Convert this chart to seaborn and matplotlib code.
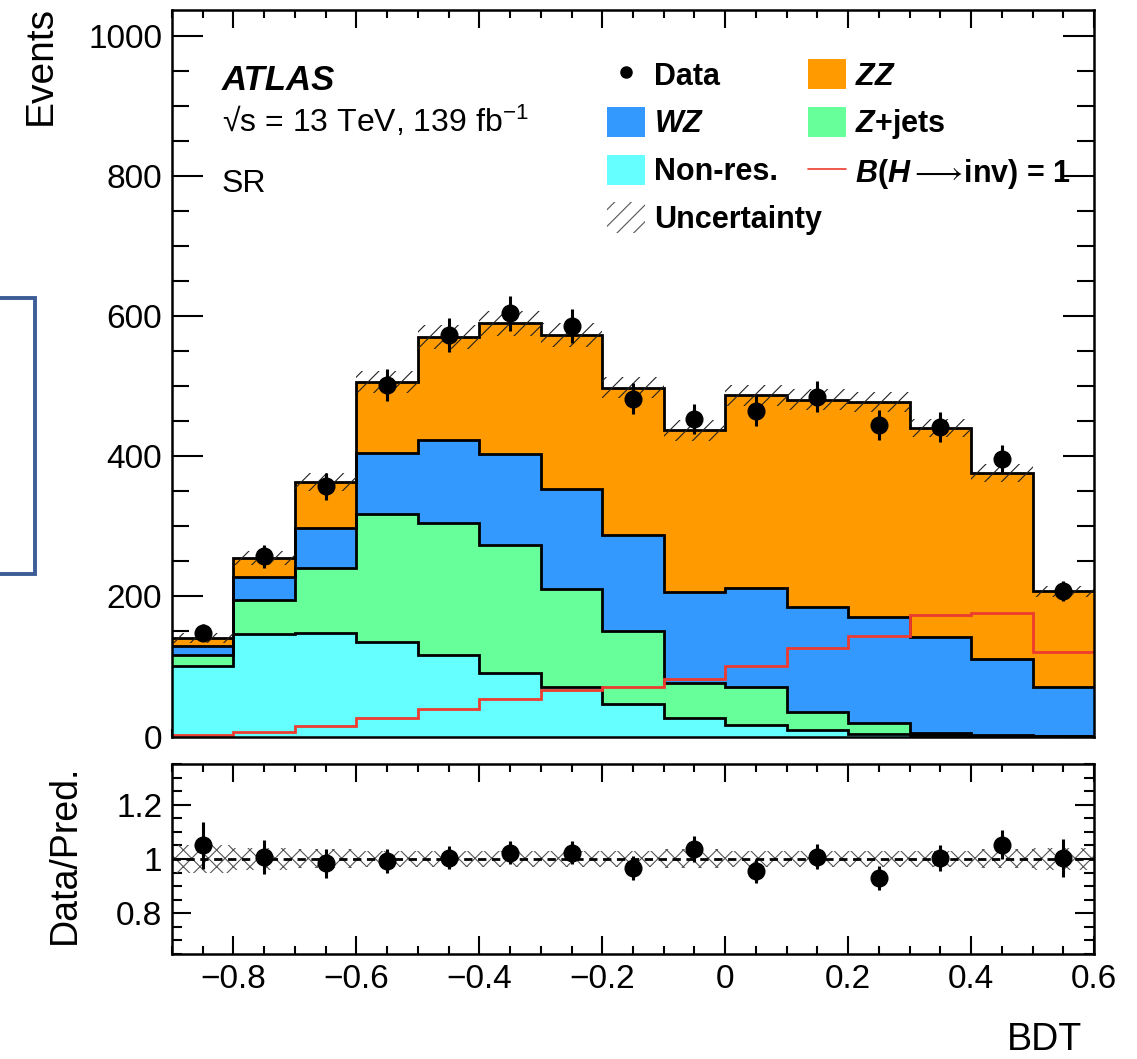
import numpy as np
import pandas as pd
import matplotlib
matplotlib.use("Agg")
import matplotlib.pyplot as plt
import seaborn as sns
from matplotlib.lines import Line2D
from matplotlib.patches import Patch, Rectangle
from matplotlib.ticker import MultipleLocator, FixedLocator, FuncFormatter

# BDT binning (15 bins of width 0.1)
bin_edges = [-0.9, -0.8, -0.7, -0.6, -0.5, -0.4, -0.3, -0.2, -0.1, 0.0, 0.1, 0.2, 0.3, 0.4, 0.5, 0.6]
bin_centers = [-0.85, -0.75, -0.65, -0.55, -0.45, -0.35, -0.25, -0.15, -0.05, 0.05, 0.15, 0.25, 0.35, 0.45, 0.55]

# background predictions per process (events per bin)
nonres = [101, 146, 148, 135, 116, 90, 70, 46, 27, 16, 9, 4, 2, 1, 0.5]
zjets = [15, 49, 92, 182, 189, 184, 141, 104, 50, 54, 26, 16, 3, 1, 0.5]
wz = [13, 33, 58, 87, 118, 129, 143, 138, 129, 142, 150, 150, 137, 109, 69]
zz = [12, 27, 65, 102, 147, 187, 219, 210, 231, 275, 296, 308, 298, 265, 137]

# signal B(H->inv) = 1 and observed data
signal = [2, 7, 15, 27, 40, 54, 66, 70, 82, 101, 126, 144, 174, 177, 120]
data = [148, 257, 357, 502, 573, 604, 586, 482, 453, 465, 485, 445, 442, 396, 208]

# relative systematic uncertainty on the prediction
unc_frac = [0.05, 0.04, 0.035, 0.03, 0.03, 0.03, 0.03, 0.03, 0.035, 0.03, 0.03, 0.03, 0.03, 0.035, 0.04]

colors = {"ZZ": "#ff9a00", "WZ": "#3399ff", "Z+jets": "#66ff99", "Non-res.": "#66ffff"}

sns.set_style("ticks")
plt.rcParams["font.family"] = ["Liberation Sans", "DejaVu Sans"]
plt.rcParams.update({
    "mathtext.fontset": "custom",
    "mathtext.rm": "Liberation Sans:bold",
    "mathtext.it": "Liberation Sans:bold:italic",
    "mathtext.bf": "Liberation Sans:bold",
    "mathtext.fallback": "stixsans",
    "hatch.linewidth": 0.8,
    "axes.linewidth": 1.8,
    "axes.edgecolor": "black",
    "text.color": "black",
    "axes.labelcolor": "black",
    "xtick.color": "black",
    "ytick.color": "black",
})

fig = plt.figure(figsize=(11.37, 10.59), dpi=100)
ax = fig.add_axes([0.1513, 0.3045, 0.8109, 0.6861])
rax = fig.add_axes([0.1513, 0.0992, 0.8109, 0.1794])

# long table for the stacked histogram
procs = {"Non-res.": nonres, "Z+jets": zjets, "WZ": wz, "ZZ": zz}
df = pd.concat([pd.DataFrame({"BDT": bin_centers, "Events": v, "process": k}) for k, v in procs.items()])

sns.histplot(data=df, x="BDT", weights="Events", hue="process",
             hue_order=["ZZ", "WZ", "Z+jets", "Non-res."], palette=colors,
             multiple="stack", bins=bin_edges, element="step", fill=True,
             alpha=1, linewidth=0, legend=False, ax=ax)

# black outlines of each stacked layer
stack = np.cumsum(np.array([nonres, zjets, wz, zz], dtype=float), axis=0)
for layer in stack:
    ax.stairs(layer, bin_edges, color="black", lw=2.0, baseline=None, zorder=3)

total = stack[-1]
unc = np.array(unc_frac)
ax.stairs(total * (1 + unc), bin_edges, baseline=total * (1 - unc), fill=True,
          facecolor="none", edgecolor="#222222", hatch="//", lw=0, zorder=3.5)

ax.stairs(signal, bin_edges, color="#ee3b2f", lw=2.0, baseline=None, zorder=4)

ax.errorbar(bin_centers, data, yerr=np.sqrt(data), fmt="o", color="black",
            ms=12, elinewidth=2.2, capsize=0, zorder=5)

ax.set_xlim(-0.9, 0.6)
ax.set_ylim(0, 1037)
ax.set_xlabel("")
ax.set_ylabel("")
ax.yaxis.set_major_locator(MultipleLocator(200))
ax.yaxis.set_minor_locator(MultipleLocator(50))
ax.xaxis.set_major_locator(MultipleLocator(0.2))
ax.xaxis.set_minor_locator(MultipleLocator(0.05))
ax.tick_params(axis="both", which="both", direction="in", top=True, right=True,
               labelsize=24, width=1.5, pad=7)
ax.tick_params(axis="y", which="major", length=22)
ax.tick_params(axis="y", which="minor", length=12)
ax.tick_params(axis="x", which="major", length=13)
ax.tick_params(axis="x", which="minor", length=6)
ax.tick_params(axis="x", labelbottom=False)
for s in ax.spines.values():
    s.set_zorder(10)

# labels inside the main pad
ax.text(0.054, 0.890, "ATLAS", transform=ax.transAxes, fontsize=25,
        fontweight="bold", fontstyle="italic", va="baseline")
ax.text(0.054, 0.832, "√s = 13 TeV, 139 fb$^{\\mathregular{-1}}$", transform=ax.transAxes,
        fontsize=23, va="baseline")
ax.text(0.054, 0.750, "SR", transform=ax.transAxes, fontsize=23, va="baseline")

# legend, two columns as in the original
h_data = Line2D([], [], marker="o", ls="none", color="black", ms=8)
h_wz = Patch(facecolor=colors["WZ"], lw=0)
h_nr = Patch(facecolor=colors["Non-res."], lw=0)
h_unc = Patch(facecolor="none", edgecolor="#555555", hatch="//", lw=0)
h_zz = Patch(facecolor=colors["ZZ"], lw=0)
h_zj = Patch(facecolor=colors["Z+jets"], lw=0)
h_sig = Line2D([], [], color="#ee3b2f", lw=1.2)

leg_kw = dict(loc="upper left", frameon=False, borderpad=0, borderaxespad=0,
              handlelength=1.25, handleheight=1.15, handletextpad=0.3,
              labelspacing=0.5, prop={"weight": "bold", "size": 22},
              bbox_transform=fig.transFigure)
leg1 = ax.legend([h_data, h_wz, h_nr, h_unc], ["Data", "$WZ$", "Non-res.", "Uncertainty"],
                 bbox_to_anchor=(607 / 1137, 1 - 59 / 1059), **leg_kw)
ax.add_artist(leg1)
ax.legend([h_zz, h_zj, h_sig], ["$ZZ$", "$Z$+jets", "$B$($H$$\\longrightarrow\\!$inv) = 1"],
          bbox_to_anchor=(808 / 1137, 1 - 59 / 1059), **leg_kw)

# ratio pad
ratio = np.array(data) / total
ratio_err = np.sqrt(data) / total
rax.stairs(1 + unc, bin_edges, baseline=1 - unc, fill=True, facecolor="none",
           edgecolor="#555555", hatch="xx", lw=0)
rax.axhline(1, color="black", ls=(0, (3, 2)), lw=2)
rax.errorbar(bin_centers, ratio, yerr=ratio_err, fmt="o", color="black",
             ms=12, elinewidth=2.2, capsize=0, zorder=5)
rax.set_xlim(-0.9, 0.6)
rax.set_ylim(0.65, 1.35)
rax.yaxis.set_major_locator(FixedLocator([0.8, 1.0, 1.2]))
rax.yaxis.set_minor_locator(MultipleLocator(0.05))
rax.xaxis.set_major_locator(MultipleLocator(0.2))
rax.xaxis.set_minor_locator(MultipleLocator(0.05))
fmt = FuncFormatter(lambda v, p: f"{v:g}".replace("-", "\u2212") if abs(v) > 1e-9 else "0")
rax.xaxis.set_major_formatter(fmt)
rax.yaxis.set_major_formatter(fmt)
rax.tick_params(axis="both", which="both", direction="in", top=True, right=True,
                labelsize=24, width=1.5, pad=7)
rax.tick_params(axis="y", which="major", length=14)
rax.tick_params(axis="y", which="minor", length=7)
rax.tick_params(axis="x", which="major", length=13)
rax.tick_params(axis="x", which="minor", length=6)
for s in rax.spines.values():
    s.set_zorder(10)

# axis titles
fig.text(0.036, 1 - 6 / 1059, "Events", rotation=90, ha="center", va="top", fontsize=28)
fig.text(0.057, 1 - 765 / 1059, "Data/Pred.", rotation=90, ha="center", va="top", fontsize=27)
fig.text(1082 / 1137, 1 - 1050 / 1059, "BDT", ha="right", va="baseline", fontsize=27)

# blue frame at the left edge
fig.add_artist(Rectangle((-0.01, 1 - 574 / 1059), 46 / 1137, 276 / 1059,
                         transform=fig.transFigure, fill=False,
                         edgecolor="#3c5d98", lw=2.8))

fig.savefig("out.png", dpi=100)
